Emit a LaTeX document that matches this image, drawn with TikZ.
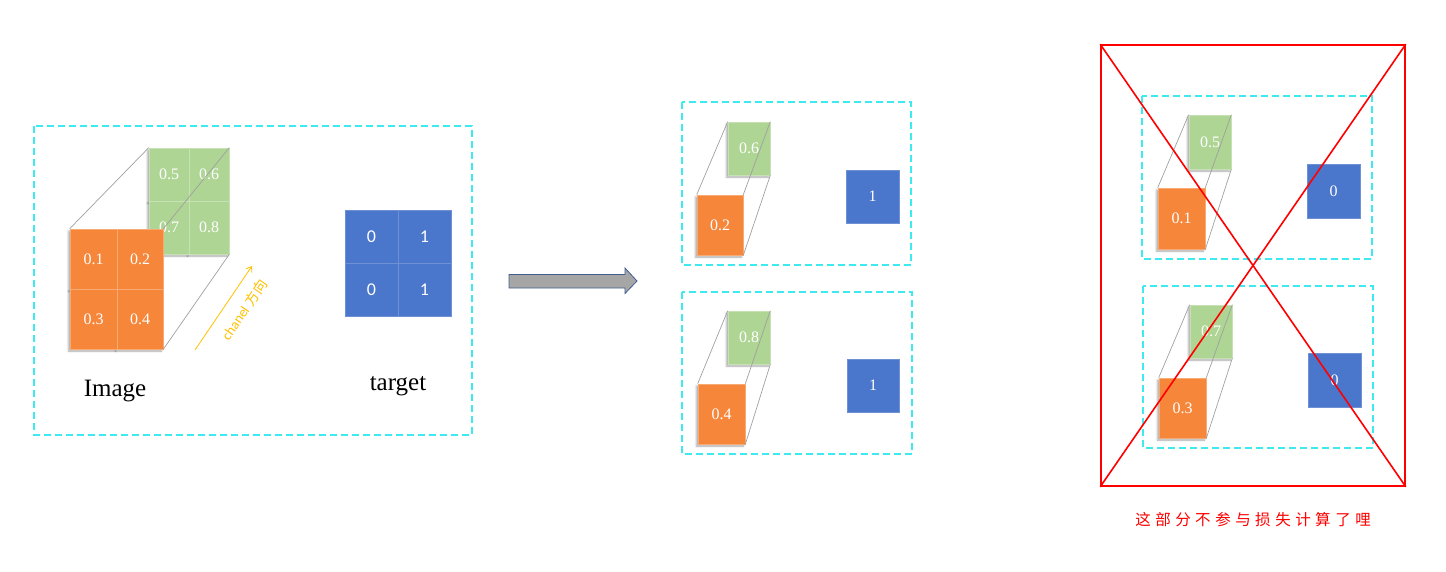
\documentclass[tikz,border=0pt]{standalone}
\usepackage{fontspec}
\setmainfont{Liberation Serif}
\newfontfamily\cali{Carlito}
\newfontfamily\cjk{Noto Sans CJK SC}
\usetikzlibrary{shadows.blur,arrows.meta}
\definecolor{cgreen}{HTML}{AED594}
\definecolor{corange}{HTML}{F5863A}
\definecolor{cblue}{HTML}{4A76CC}
\definecolor{ccyan}{HTML}{3CEAF0}
\definecolor{cgray}{HTML}{A6A6A6}
\definecolor{cyel}{HTML}{FFC000}
\definecolor{cline}{HTML}{A0A0A0}
\definecolor{carrow}{HTML}{3F5D8F}
\begin{document}
\begin{tikzpicture}[x=1pt,y=-1pt,
  cell/.style={rectangle,inner sep=0pt,text=white,font=\fontsize{16}{16}\selectfont},
  shad/.style={blur shadow={shadow xshift=-1.5pt,shadow yshift=-2pt,shadow blur radius=2pt,shadow opacity=35}},
  gcell/.style={cell,fill=cgreen,draw=cgreen!70!white,line width=0.6pt,shad},
  ocell/.style={cell,fill=corange,draw=corange!70!white,line width=0.6pt,shad},
  bcell/.style={cell,fill=cblue,draw=cblue!80!white,line width=0.6pt},
  dashbox/.style={draw=ccyan,line width=1.1pt,dash pattern=on 7pt off 4pt},
  edge3d/.style={draw=cline,line width=0.7pt},
  redline/.style={draw=red,line width=1.6pt},
  bigarrow/.style={fill=cgray,draw=carrow,line width=0.8pt,line join=miter}
]
\useasboundingbox (0,0) rectangle (1446,572);

% ---------- panel 1 ----------
\draw[dashbox] (34,126) rectangle (472,435);
\node[gcell,minimum width=40pt,minimum height=53pt] (g2) at (209,174.5) {0.6};
\node[gcell,minimum width=40pt,minimum height=53pt] (g1) at (169,174.5) {0.5};
\node[gcell,minimum width=40pt,minimum height=53pt] (g4) at (209,227.5) {0.8};
\node[gcell,minimum width=40pt,minimum height=53pt] (g3) at (169,227.5) {0.7};
\node[ocell,minimum width=46pt,minimum height=60pt] (o2) at (140,259) {0.2};
\node[ocell,minimum width=47pt,minimum height=60pt] (o1) at (93.5,259) {0.1};
\node[ocell,minimum width=46pt,minimum height=60pt] (o4) at (140,319) {0.4};
\node[ocell,minimum width=47pt,minimum height=60pt] (o3) at (93.5,319) {0.3};
\draw[edge3d] (o1.north west) -- (g1.north west);
\draw[edge3d] (o2.north east) -- (g2.north east);
\draw[edge3d] (o4.south east) -- (g4.south east);

\coordinate (ca) at (195,350);
\coordinate (cb) at (252,266);
\draw[cyel,line width=0.8pt,-{Straight Barb[length=5pt,width=7pt]}] (ca) -- (cb)
  node[pos=0.6,sloped,below=11pt,inner sep=0pt,text=cyel,font=\fontsize{14}{14}\selectfont] (chl) {\cali chanel\hspace{4pt}\cjk 方向};

\node[bcell,font=\cali\fontsize{18}{18}\selectfont,minimum width=53pt,minimum height=53pt] (t1) at (371.5,236.5) {0};
\node[bcell,font=\cali\fontsize{18}{18}\selectfont,minimum width=53pt,minimum height=53pt] (t2) at (424.5,236.5) {1};
\node[bcell,font=\cali\fontsize{18}{18}\selectfont,minimum width=53pt,minimum height=53pt] (t3) at (371.5,289.5) {0};
\node[bcell,font=\cali\fontsize{18}{18}\selectfont,minimum width=53pt,minimum height=53pt] (t4) at (424.5,289.5) {1};

\node[font=\fontsize{25}{25}\selectfont] (imgl) at (115,391) {Image};
\node[font=\fontsize{25}{25}\selectfont] (tgtl) at (398,386) {target};

% ---------- block arrow ----------
\draw[bigarrow] (509,274.5) -- (625,274.5) -- (625,268) -- (637,281) -- (625,293.5) -- (625,288) -- (509,288) -- cycle;

% ---------- panel 2 ----------
\draw[dashbox] (682,102) rectangle (911,265);
\node[gcell,minimum width=42pt,minimum height=53pt] (pg1) at (749,148.5) {0.6};
\node[ocell,minimum width=46pt,minimum height=60pt] (po1) at (720,225) {0.2};
\draw[edge3d] (po1.north west) -- (pg1.north west);
\draw[edge3d] (po1.north east) -- (pg1.north east);
\draw[edge3d] (po1.south east) -- (pg1.south east);
\node[bcell,minimum width=53pt,minimum height=53pt] (pb1) at (872.5,196.5) {1};

\draw[dashbox] (682,292) rectangle (912,454);
\node[gcell,minimum width=42pt,minimum height=53pt] (pg2) at (749,337.5) {0.8};
\node[ocell,minimum width=47pt,minimum height=60pt] (po2) at (721.5,414) {0.4};
\draw[edge3d] (po2.north west) -- (pg2.north west);
\draw[edge3d] (po2.north east) -- (pg2.north east);
\draw[edge3d] (po2.south east) -- (pg2.south east);
\node[bcell,minimum width=52pt,minimum height=53pt] (pb2) at (873,385.5) {1};

% ---------- panel 3 (excluded) ----------
\draw[dashbox] (1142,96) rectangle (1372,259);
\node[gcell,minimum width=42pt,minimum height=54pt] (qg1) at (1210,142) {0.5};
\node[ocell,minimum width=47pt,minimum height=61pt] (qo1) at (1181.5,218.5) {0.1};
\draw[edge3d] (qo1.north west) -- (qg1.north west);
\draw[edge3d] (qo1.north east) -- (qg1.north east);
\draw[edge3d] (qo1.south east) -- (qg1.south east);
\node[bcell,minimum width=53pt,minimum height=54pt] (qb1) at (1333.5,191) {0};

\draw[dashbox] (1143,286) rectangle (1373,448);
\node[gcell,minimum width=42pt,minimum height=53pt] (qg2) at (1211,331.5) {0.7};
\node[ocell,minimum width=47pt,minimum height=60pt] (qo2) at (1182.5,408) {0.3};
\draw[edge3d] (qo2.north west) -- (qg2.north west);
\draw[edge3d] (qo2.north east) -- (qg2.north east);
\draw[edge3d] (qo2.south east) -- (qg2.south east);
\node[bcell,minimum width=53pt,minimum height=54pt] (qb2) at (1334.5,380) {0};

\node[draw=red,line width=1.6pt,minimum width=304pt,minimum height=441pt,inner sep=0pt] (xbox) at (1253,265.5) {};
\draw[redline] (xbox.north west) -- (xbox.south east);
\draw[redline] (xbox.north east) -- (xbox.south west);

\node[text=red,font=\cjk\fontsize{15.5}{15.5}\selectfont] (note) at (1253,520)
  {这\hspace{4.5pt}部\hspace{4.5pt}分\hspace{4.5pt}不\hspace{4.5pt}参\hspace{4.5pt}与\hspace{4.5pt}损\hspace{4.5pt}失\hspace{4.5pt}计\hspace{4.5pt}算\hspace{4.5pt}了\hspace{4.5pt}哩};
\end{tikzpicture}
\end{document}
